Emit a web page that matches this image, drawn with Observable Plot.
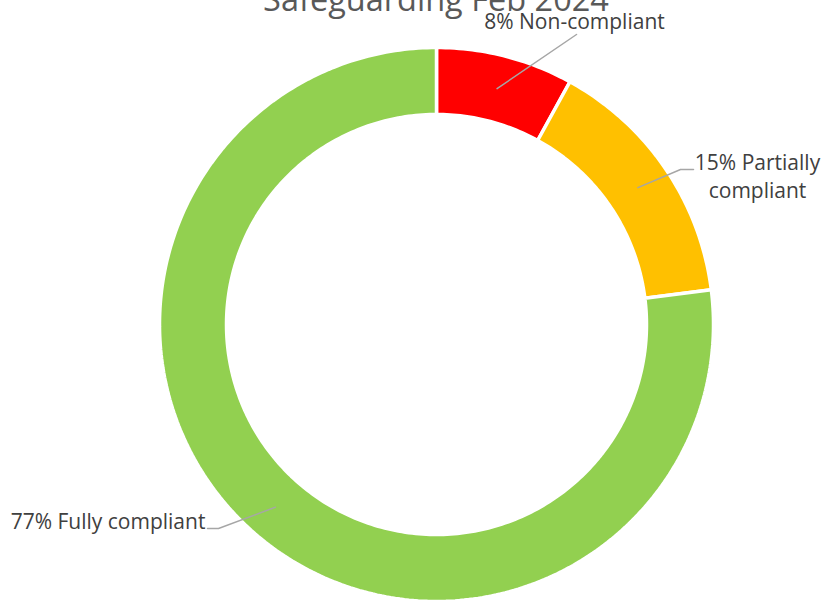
<!DOCTYPE html>
<html>
<head>
<meta charset="utf-8">
<script src="https://cdn.jsdelivr.net/npm/d3@7"></script>
<script src="https://cdn.jsdelivr.net/npm/@observablehq/plot@0.6"></script>
<style>
  html, body { margin: 0; padding: 0; background: #fff; overflow: hidden; }
  #chart { width: 825px; height: 601px; }
</style>
</head>
<body>
<div id="chart"></div>
<script>
// ---- data ----
const title = "Safeguarding Feb 2024";
const categories = ["Non-compliant", "Partially compliant", "Fully compliant"];
const shares = [0.08, 0.15, 0.77];
const colors = ["#FF0000", "#FFC000", "#92D050"];
const labelLines = [["8% Non-compliant"], ["15% Partially", "compliant"], ["77% Fully compliant"]];

// ---- layout (pixels, relative to donut centre, y up) ----
const W = 825, H = 601;
const cx = 436, cy = 324;
const rOuter = 277, rInner = 210;
const labelLayout = [
  {elbow: [140, 290], end: [140, 290], text: [138, 296]},
  {elbow: [244, 155], end: [257, 155], text: [321, 127]},
  {elbow: [-218, -204], end: [-229, -204], text: [-328.5, -204]}
];

// ---- derived geometry ----
let cum = 0;
const slices = shares.map((v, i) => {
  const s = { cat: categories[i], a0: cum * 2 * Math.PI, a1: (cum + v) * 2 * Math.PI, color: colors[i] };
  cum += v;
  return s;
});
const pts = [];
slices.forEach(s => {
  const n = Math.max(8, Math.ceil((s.a1 - s.a0) * 60));
  for (let k = 0; k <= n; k++) {
    const a = s.a0 + (s.a1 - s.a0) * k / n;
    pts.push({cat: s.cat, x: rOuter * Math.sin(a), y: rOuter * Math.cos(a)});
  }
  for (let k = n; k >= 0; k--) {
    const a = s.a0 + (s.a1 - s.a0) * k / n;
    pts.push({cat: s.cat, x: rInner * Math.sin(a), y: rInner * Math.cos(a)});
  }
});
const leaders = [];
const labels = [];
slices.forEach((s, i) => {
  const am = (s.a0 + s.a1) / 2, rm = (rOuter + rInner) / 2;
  const L = labelLayout[i];
  leaders.push({i, x: rm * Math.sin(am), y: rm * Math.cos(am)});
  leaders.push({i, x: L.elbow[0], y: L.elbow[1]});
  leaders.push({i, x: L.end[0], y: L.end[1]});
  labels.push({x: L.text[0], y: L.text[1], text: labelLines[i].join("\n")});
});

const plot = Plot.plot({
  width: W, height: H,
  margin: 0,
  x: {domain: [-cx, W - cx], axis: null},
  y: {domain: [cy - H, cy], axis: null},
  color: {domain: categories, range: colors},
  style: {fontFamily: "'Open Sans', sans-serif", background: "#fff", overflow: "visible"},
  marks: [
    Plot.line(pts, {x: "x", y: "y", z: "cat", fill: "cat", stroke: "#fff", strokeWidth: 3.5, curve: "linear-closed", strokeLinejoin: "miter"}),
    Plot.line(leaders, {x: "x", y: "y", z: "i", stroke: "#A6A6A6", strokeWidth: 1.5}),
    Plot.text(labels, {x: "x", y: "y", text: "text", textAnchor: "middle", lineAnchor: "bottom", fill: "#404040", fontSize: 21, lineHeight: 1.33}),
    Plot.text([title], {x: -0.5, y: cy - 10, text: d => d, textAnchor: "middle", lineAnchor: "bottom", fill: "#595959", fontSize: 32.5})
  ]
});
document.getElementById("chart").appendChild(plot);
</script>
</body>
</html>
